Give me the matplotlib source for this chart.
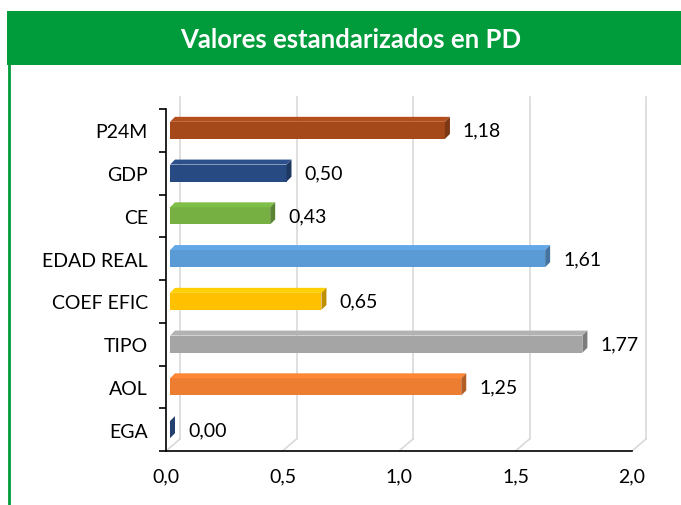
import matplotlib
matplotlib.use("Agg")
import matplotlib.pyplot as plt
from matplotlib.patches import Polygon, Rectangle
from matplotlib.lines import Line2D

# Data (top to bottom)
categories = ["P24M", "GDP", "CE", "EDAD REAL", "COEF EFIC", "TIPO", "AOL", "EGA"]
values = [1.18, 0.50, 0.43, 1.61, 0.65, 1.77, 1.25, 0.00]
bar_colors = ["#A5491B", "#284A82", "#76B043", "#5B9BD5", "#FFC000",
              "#A5A5A5", "#ED7D31", "#2F5597"]
x_ticks = [0.0, 0.5, 1.0, 1.5, 2.0]
x_tick_labels = ["0,0", "0,5", "1,0", "1,5", "2,0"]
title = "Valores estandarizados en PD"

FONT = "Lato"
W, H = 681, 506
fig = plt.figure(figsize=(W / 100, H / 100), dpi=100)
fig.patch.set_facecolor("white")

# Green header band and left border
green = "#009B3A"
fig.add_artist(Rectangle((7 / W, 1 - 66 / H), 1, 54 / H, transform=fig.transFigure,
                         facecolor=green, edgecolor="none"))
fig.add_artist(Line2D([9 / W, 9 / W], [0, 1 - 66 / H], transform=fig.transFigure,
                      color=green, lw=2))
fig.text(351 / W, 1 - 40 / H, title, ha="center", va="center", color="white",
         fontsize=18.5, fontweight="bold", family=FONT)

# Plot area
left, right, top, bottom = 166, 632, 110, 452
ax = fig.add_axes([left / W, 1 - bottom / H, (right - left) / W, (bottom - top) / H])
n = len(categories)
ys = list(range(n - 1, -1, -1))
ax.set_xlim(0, 2)
ax.set_ylim(-0.5, n - 0.5)
ax.set_facecolor("none")

px_x = 2.0 / (right - left)          # data units per pixel (x)
px_y = n / (bottom - top)            # data units per pixel (y)

# Back-wall gridlines with perspective offset
gx, gy = 14, 12
for v in x_ticks:
    ax.plot([v + gx * px_x, v + gx * px_x], [-0.5 + gy * px_y, n - 0.5 + gy * px_y],
            color="#D9D9D9", lw=1.2, clip_on=False, zorder=0)
    ax.plot([v, v + gx * px_x], [-0.5, -0.5 + gy * px_y],
            color="#D9D9D9", lw=1.2, clip_on=False, zorder=0)


def shade(c, f):
    r, g, b = matplotlib.colors.to_rgb(c)
    return tuple(min(1.0, max(0.0, ch * f)) for ch in (r, g, b))


# 3D-style bars
bh = 0.40
x0 = 4 * px_x
dx, dy = 5 * px_x, 5 * px_y
for y, v, c in zip(ys, values, bar_colors):
    x1 = x0 + v
    yb, yt = y - bh / 2, y + bh / 2
    if v > 0:
        ax.add_patch(Rectangle((x0, yb), v, bh, facecolor=c, edgecolor="none", zorder=2))
        ax.add_patch(Polygon([(x0, yt), (x1, yt), (x1 + dx, yt + dy), (x0 + dx, yt + dy)],
                             closed=True, facecolor=shade(c, 1.08),
                             edgecolor="none", zorder=2))
    ax.add_patch(Polygon([(x1, yb), (x1, yt), (x1 + dx, yt + dy), (x1 + dx, yb + dy)],
                         closed=True, facecolor=shade(c, 0.75), edgecolor="none", zorder=2))
    ax.text(x1 + dx + 13 * px_x, y, f"{v:.2f}".replace(".", ","), ha="left", va="center",
            fontsize=14, family=FONT, color="black")

# Axes styling
for s in ["top", "right"]:
    ax.spines[s].set_visible(False)
ax.spines["left"].set_linewidth(1.2)
ax.spines["bottom"].set_linewidth(1.2)
ax.set_xticks(x_ticks)
ax.set_xticklabels(x_tick_labels, fontsize=14, family=FONT)
ax.tick_params(axis="x", length=0, pad=12)
ax.set_yticks([i - 0.5 for i in range(n + 1)])
ax.set_yticklabels([])
ax.tick_params(axis="y", which="major", length=5, width=1.2, direction="out")
ax.set_yticks(ys, minor=True)
ax.set_yticklabels(categories, minor=True, fontsize=14, family=FONT)
ax.tick_params(axis="y", which="minor", length=0, pad=13)

fig.savefig("out.png", dpi=100)
